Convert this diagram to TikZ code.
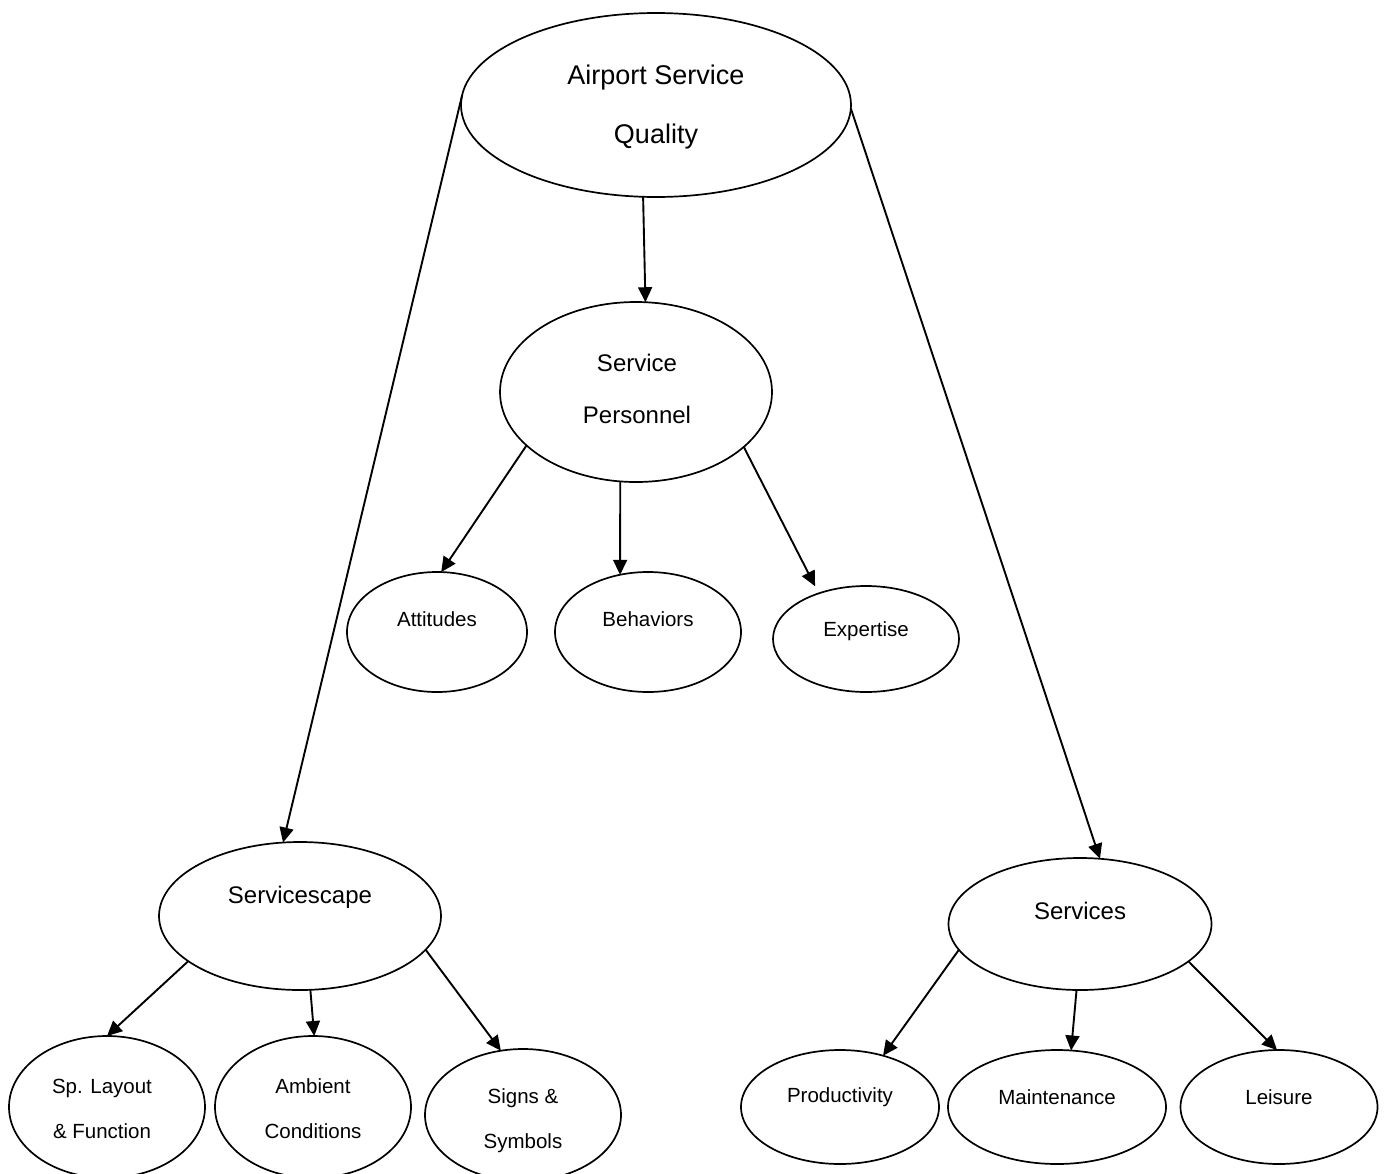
\documentclass[tikz,border=0pt]{standalone}
\usepackage{fontspec}
\setmainfont{Liberation Sans}
\usetikzlibrary{shapes.geometric,arrows.meta}
\begin{document}
\begin{tikzpicture}[x=1pt,y=-1pt,
  oval/.style={ellipse,draw,line width=1.7pt,inner sep=0pt,outer sep=0pt},
  big/.style={font=\fontsize{27}{59}\selectfont,align=center,inner sep=0pt},
  mid/.style={font=\fontsize{24}{52}\selectfont,align=center,inner sep=0pt},
  small/.style={font=\fontsize{20.5}{45}\selectfont,align=center,inner sep=0pt},
  arr/.style={line width=1.9pt,-{Triangle[length=15pt,width=14pt]}}]
\useasboundingbox (0,0) rectangle (1386,1173);
% ellipses
\node[oval,minimum width=390pt,minimum height=184pt] (asq) at (656,105) {};
\node[oval,minimum width=272pt,minimum height=180pt] (sp) at (636,392) {};
\node[oval,minimum width=180pt,minimum height=120pt] (att) at (437,632) {};
\node[oval,minimum width=186pt,minimum height=120pt] (beh) at (648,632) {};
\node[oval,minimum width=186pt,minimum height=106pt] (exp) at (866,639) {};
\node[oval,minimum width=282pt,minimum height=148pt] (ssc) at (300,916) {};
\node[oval,minimum width=263pt,minimum height=132pt] (svc) at (1080,924) {};
\node[oval,minimum width=196pt,minimum height=142pt] (lay) at (107,1107) {};
\node[oval,minimum width=196pt,minimum height=142pt] (amb) at (313,1107) {};
\node[oval,minimum width=196pt,minimum height=132pt] (sig) at (523,1115) {};
\node[oval,minimum width=198pt,minimum height=114pt] (pro) at (840,1107) {};
\node[oval,minimum width=218pt,minimum height=114pt] (mai) at (1057,1107) {};
\node[oval,minimum width=197pt,minimum height=114pt] (lei) at (1279,1107) {};
% texts
\node[big] (tasq) at (656,107) {Airport Service\\Quality};
\node[mid] (tsp) at (637,389) {Service\\Personnel};
\node[small] (tatt) at (437,619) {Attitudes};
\node[small] (tbeh) at (648,619) {Behaviors};
\node[small] (texp) at (866,631) {Expertise};
\node[mid] (tssc) at (300,897) {Servicescape};
\node[mid] (tsvc) at (1080,911) {Services};
\node[small] (tlay) at (102,1109) {Sp. Layout\\\& Function};
\node[small] (tamb) at (313,1109) {Ambient\\Conditions};
\node[small] (tsig) at (523,1121) {Signs \&\\Symbols};
\node[small] (tpro) at (840,1097) {Productivity};
\node[small] (tmai) at (1057,1097) {Maintenance};
\node[small] (tlei) at (1279,1097) {Leisure};
% connectors
\draw[arr] (asq.262) -- (sp.84);
\draw[arr] (asq.177) -- (ssc.103);
\draw[arr] (asq.-1.5) -- (svc.73);
\draw[arr] (sp.206) -- (att.86);
\draw[arr] (sp.260.5) -- (beh.116);
\draw[arr,shorten >=8pt] (sp.333) -- (exp.136);
\draw[arr] (ssc.202) -- (lay.90);
\draw[arr] (ssc.278.5) -- (amb.89);
\draw[arr] (ssc.345) -- (sig.109);
\draw[arr] (svc.192) -- (pro.50);
\draw[arr] (svc.267) -- (mai.76);
\draw[arr] (svc.341) -- (lei.92);
\end{tikzpicture}
\end{document}
